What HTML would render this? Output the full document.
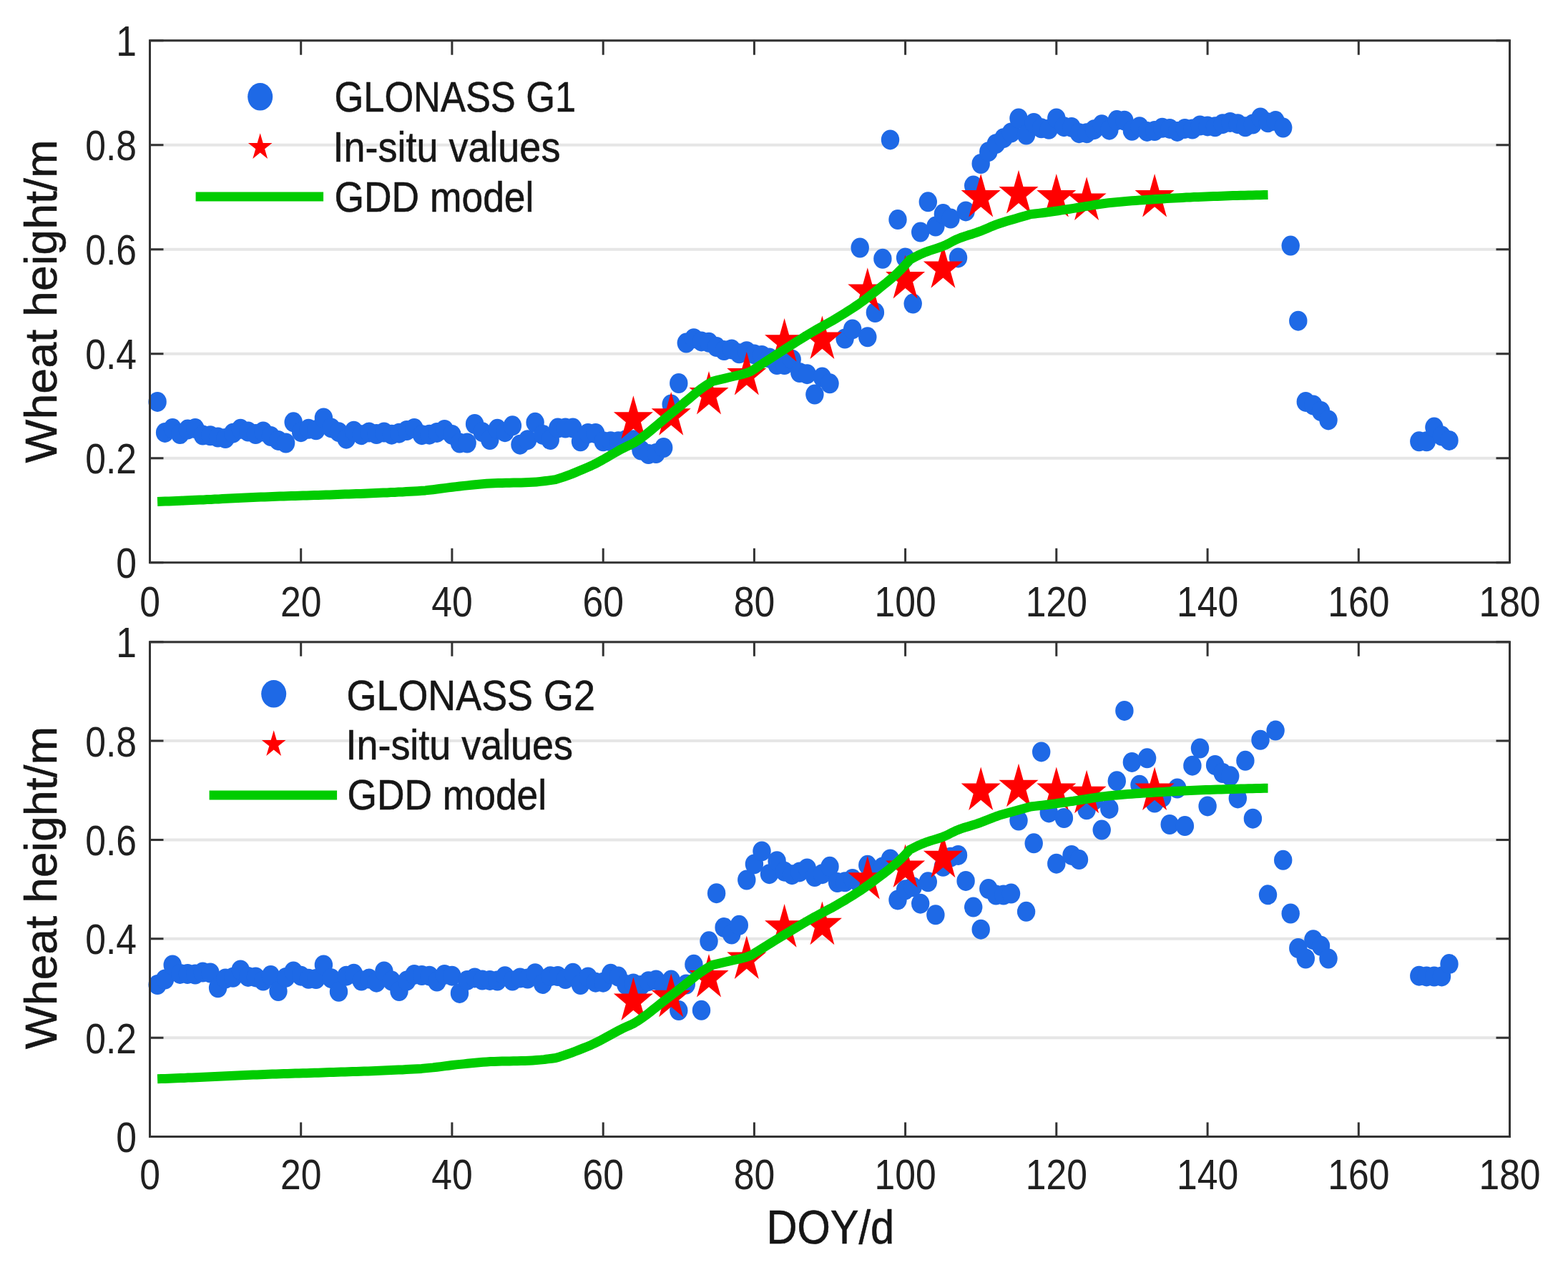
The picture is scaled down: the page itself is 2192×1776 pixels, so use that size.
<!DOCTYPE html><html><head><meta charset="utf-8"><title>Wheat height</title><style>html,body{margin:0;padding:0;background:#fff;}svg{display:block;}</style></head><body>
<svg width="2192" height="1776" viewBox="0 0 2192 1776">
<rect width="2192" height="1776" fill="#ffffff"/>
<style>text{fill:#161616;stroke:#161616;stroke-width:0.6px}text.t{fill:#202020;stroke:none}</style>
<g font-family="'Liberation Sans', Arial, Helvetica, sans-serif">
<line x1="209.5" x2="2110.5" y1="640.7" y2="640.7" stroke="#e6e6e6" stroke-width="4"/>
<line x1="209.5" x2="2110.5" y1="494.7" y2="494.7" stroke="#e6e6e6" stroke-width="4"/>
<line x1="209.5" x2="2110.5" y1="348.7" y2="348.7" stroke="#e6e6e6" stroke-width="4"/>
<line x1="209.5" x2="2110.5" y1="202.7" y2="202.7" stroke="#e6e6e6" stroke-width="4"/>
<line x1="209.5" x2="2110.5" y1="56.7" y2="56.7" stroke="#e6e6e6" stroke-width="4"/>
<g fill="#1e69e6"><ellipse cx="220.1" cy="561.9" rx="12.7" ry="14.0"/><ellipse cx="230.6" cy="604.9" rx="12.7" ry="14.0"/><ellipse cx="241.2" cy="599.1" rx="12.7" ry="14.0"/><ellipse cx="251.7" cy="607.1" rx="12.7" ry="14.0"/><ellipse cx="262.3" cy="600.6" rx="12.7" ry="14.0"/><ellipse cx="272.9" cy="599.1" rx="12.7" ry="14.0"/><ellipse cx="283.4" cy="608.6" rx="12.7" ry="14.0"/><ellipse cx="294.0" cy="609.3" rx="12.7" ry="14.0"/><ellipse cx="304.6" cy="611.5" rx="12.7" ry="14.0"/><ellipse cx="315.1" cy="613.0" rx="12.7" ry="14.0"/><ellipse cx="325.7" cy="605.7" rx="12.7" ry="14.0"/><ellipse cx="336.2" cy="599.8" rx="12.7" ry="14.0"/><ellipse cx="346.8" cy="603.5" rx="12.7" ry="14.0"/><ellipse cx="357.4" cy="607.1" rx="12.7" ry="14.0"/><ellipse cx="367.9" cy="603.5" rx="12.7" ry="14.0"/><ellipse cx="378.5" cy="610.0" rx="12.7" ry="14.0"/><ellipse cx="389.0" cy="615.9" rx="12.7" ry="14.0"/><ellipse cx="399.6" cy="619.5" rx="12.7" ry="14.0"/><ellipse cx="410.2" cy="590.3" rx="12.7" ry="14.0"/><ellipse cx="420.7" cy="604.2" rx="12.7" ry="14.0"/><ellipse cx="431.3" cy="599.8" rx="12.7" ry="14.0"/><ellipse cx="441.8" cy="601.3" rx="12.7" ry="14.0"/><ellipse cx="452.4" cy="584.5" rx="12.7" ry="14.0"/><ellipse cx="463.0" cy="598.4" rx="12.7" ry="14.0"/><ellipse cx="473.5" cy="604.2" rx="12.7" ry="14.0"/><ellipse cx="484.1" cy="613.7" rx="12.7" ry="14.0"/><ellipse cx="494.6" cy="602.7" rx="12.7" ry="14.0"/><ellipse cx="505.2" cy="608.2" rx="12.7" ry="14.0"/><ellipse cx="515.8" cy="604.5" rx="12.7" ry="14.0"/><ellipse cx="526.3" cy="607.1" rx="12.7" ry="14.0"/><ellipse cx="536.9" cy="604.5" rx="12.7" ry="14.0"/><ellipse cx="547.5" cy="607.7" rx="12.7" ry="14.0"/><ellipse cx="558.0" cy="605.7" rx="12.7" ry="14.0"/><ellipse cx="568.6" cy="602.0" rx="12.7" ry="14.0"/><ellipse cx="579.1" cy="599.1" rx="12.7" ry="14.0"/><ellipse cx="589.7" cy="608.2" rx="12.7" ry="14.0"/><ellipse cx="600.3" cy="607.7" rx="12.7" ry="14.0"/><ellipse cx="610.8" cy="604.9" rx="12.7" ry="14.0"/><ellipse cx="621.4" cy="600.9" rx="12.7" ry="14.0"/><ellipse cx="631.9" cy="607.9" rx="12.7" ry="14.0"/><ellipse cx="642.5" cy="619.5" rx="12.7" ry="14.0"/><ellipse cx="653.1" cy="619.5" rx="12.7" ry="14.0"/><ellipse cx="663.6" cy="593.0" rx="12.7" ry="14.0"/><ellipse cx="674.2" cy="604.2" rx="12.7" ry="14.0"/><ellipse cx="684.8" cy="615.0" rx="12.7" ry="14.0"/><ellipse cx="695.3" cy="599.8" rx="12.7" ry="14.0"/><ellipse cx="705.9" cy="604.2" rx="12.7" ry="14.0"/><ellipse cx="716.4" cy="595.3" rx="12.7" ry="14.0"/><ellipse cx="727.0" cy="621.7" rx="12.7" ry="14.0"/><ellipse cx="737.6" cy="615.2" rx="12.7" ry="14.0"/><ellipse cx="748.1" cy="590.8" rx="12.7" ry="14.0"/><ellipse cx="758.7" cy="607.9" rx="12.7" ry="14.0"/><ellipse cx="769.2" cy="615.0" rx="12.7" ry="14.0"/><ellipse cx="779.8" cy="598.6" rx="12.7" ry="14.0"/><ellipse cx="790.4" cy="598.6" rx="12.7" ry="14.0"/><ellipse cx="800.9" cy="598.6" rx="12.7" ry="14.0"/><ellipse cx="811.5" cy="617.3" rx="12.7" ry="14.0"/><ellipse cx="822.0" cy="606.0" rx="12.7" ry="14.0"/><ellipse cx="832.6" cy="606.0" rx="12.7" ry="14.0"/><ellipse cx="843.2" cy="617.3" rx="12.7" ry="14.0"/><ellipse cx="853.7" cy="617.3" rx="12.7" ry="14.0"/><ellipse cx="864.3" cy="617.3" rx="12.7" ry="14.0"/><ellipse cx="874.9" cy="615.2" rx="12.7" ry="14.0"/><ellipse cx="885.4" cy="615.2" rx="12.7" ry="14.0"/><ellipse cx="896.0" cy="629.5" rx="12.7" ry="14.0"/><ellipse cx="906.5" cy="635.1" rx="12.7" ry="14.0"/><ellipse cx="917.1" cy="634.1" rx="12.7" ry="14.0"/><ellipse cx="927.7" cy="626.1" rx="12.7" ry="14.0"/><ellipse cx="938.2" cy="565.5" rx="12.7" ry="14.0"/><ellipse cx="948.8" cy="536.0" rx="12.7" ry="14.0"/><ellipse cx="959.3" cy="479.6" rx="12.7" ry="14.0"/><ellipse cx="969.9" cy="473.2" rx="12.7" ry="14.0"/><ellipse cx="980.5" cy="477.4" rx="12.7" ry="14.0"/><ellipse cx="991.0" cy="478.8" rx="12.7" ry="14.0"/><ellipse cx="1001.6" cy="485.1" rx="12.7" ry="14.0"/><ellipse cx="1012.1" cy="490.1" rx="12.7" ry="14.0"/><ellipse cx="1022.7" cy="488.4" rx="12.7" ry="14.0"/><ellipse cx="1033.3" cy="494.3" rx="12.7" ry="14.0"/><ellipse cx="1043.8" cy="491.2" rx="12.7" ry="14.0"/><ellipse cx="1054.4" cy="495.4" rx="12.7" ry="14.0"/><ellipse cx="1065.0" cy="496.9" rx="12.7" ry="14.0"/><ellipse cx="1075.5" cy="500.5" rx="12.7" ry="14.0"/><ellipse cx="1086.1" cy="510.0" rx="12.7" ry="14.0"/><ellipse cx="1096.6" cy="510.0" rx="12.7" ry="14.0"/><ellipse cx="1107.2" cy="502.7" rx="12.7" ry="14.0"/><ellipse cx="1117.8" cy="521.0" rx="12.7" ry="14.0"/><ellipse cx="1128.3" cy="523.2" rx="12.7" ry="14.0"/><ellipse cx="1138.9" cy="551.6" rx="12.7" ry="14.0"/><ellipse cx="1149.4" cy="527.6" rx="12.7" ry="14.0"/><ellipse cx="1160.0" cy="536.3" rx="12.7" ry="14.0"/><ellipse cx="1181.1" cy="473.5" rx="12.7" ry="14.0"/><ellipse cx="1191.7" cy="460.4" rx="12.7" ry="14.0"/><ellipse cx="1202.2" cy="346.5" rx="12.7" ry="14.0"/><ellipse cx="1212.8" cy="471.3" rx="12.7" ry="14.0"/><ellipse cx="1223.4" cy="437.0" rx="12.7" ry="14.0"/><ellipse cx="1233.9" cy="361.8" rx="12.7" ry="14.0"/><ellipse cx="1244.5" cy="195.4" rx="12.7" ry="14.0"/><ellipse cx="1255.0" cy="307.1" rx="12.7" ry="14.0"/><ellipse cx="1265.6" cy="360.4" rx="12.7" ry="14.0"/><ellipse cx="1276.2" cy="424.6" rx="12.7" ry="14.0"/><ellipse cx="1286.7" cy="324.6" rx="12.7" ry="14.0"/><ellipse cx="1297.3" cy="282.3" rx="12.7" ry="14.0"/><ellipse cx="1307.9" cy="316.6" rx="12.7" ry="14.0"/><ellipse cx="1318.4" cy="299.1" rx="12.7" ry="14.0"/><ellipse cx="1329.0" cy="305.6" rx="12.7" ry="14.0"/><ellipse cx="1339.5" cy="360.4" rx="12.7" ry="14.0"/><ellipse cx="1350.1" cy="295.4" rx="12.7" ry="14.0"/><ellipse cx="1360.7" cy="259.6" rx="12.7" ry="14.0"/><ellipse cx="1371.2" cy="229.0" rx="12.7" ry="14.0"/><ellipse cx="1381.8" cy="212.2" rx="12.7" ry="14.0"/><ellipse cx="1392.3" cy="201.2" rx="12.7" ry="14.0"/><ellipse cx="1402.9" cy="193.2" rx="12.7" ry="14.0"/><ellipse cx="1413.5" cy="185.5" rx="12.7" ry="14.0"/><ellipse cx="1424.0" cy="165.5" rx="12.7" ry="14.0"/><ellipse cx="1434.6" cy="188.5" rx="12.7" ry="14.0"/><ellipse cx="1445.2" cy="172.0" rx="12.7" ry="14.0"/><ellipse cx="1455.7" cy="179.3" rx="12.7" ry="14.0"/><ellipse cx="1466.3" cy="180.8" rx="12.7" ry="14.0"/><ellipse cx="1476.8" cy="165.5" rx="12.7" ry="14.0"/><ellipse cx="1487.4" cy="177.2" rx="12.7" ry="14.0"/><ellipse cx="1498.0" cy="177.9" rx="12.7" ry="14.0"/><ellipse cx="1508.5" cy="186.2" rx="12.7" ry="14.0"/><ellipse cx="1519.1" cy="186.2" rx="12.7" ry="14.0"/><ellipse cx="1529.6" cy="181.2" rx="12.7" ry="14.0"/><ellipse cx="1540.2" cy="174.3" rx="12.7" ry="14.0"/><ellipse cx="1550.8" cy="181.7" rx="12.7" ry="14.0"/><ellipse cx="1561.3" cy="168.1" rx="12.7" ry="14.0"/><ellipse cx="1571.9" cy="168.7" rx="12.7" ry="14.0"/><ellipse cx="1582.4" cy="182.8" rx="12.7" ry="14.0"/><ellipse cx="1593.0" cy="177.2" rx="12.7" ry="14.0"/><ellipse cx="1603.6" cy="183.9" rx="12.7" ry="14.0"/><ellipse cx="1614.1" cy="183.0" rx="12.7" ry="14.0"/><ellipse cx="1624.7" cy="178.8" rx="12.7" ry="14.0"/><ellipse cx="1635.2" cy="179.9" rx="12.7" ry="14.0"/><ellipse cx="1645.8" cy="183.9" rx="12.7" ry="14.0"/><ellipse cx="1656.4" cy="179.9" rx="12.7" ry="14.0"/><ellipse cx="1666.9" cy="180.6" rx="12.7" ry="14.0"/><ellipse cx="1677.5" cy="175.5" rx="12.7" ry="14.0"/><ellipse cx="1688.1" cy="176.4" rx="12.7" ry="14.0"/><ellipse cx="1698.6" cy="177.3" rx="12.7" ry="14.0"/><ellipse cx="1709.2" cy="173.2" rx="12.7" ry="14.0"/><ellipse cx="1719.7" cy="170.9" rx="12.7" ry="14.0"/><ellipse cx="1730.3" cy="173.2" rx="12.7" ry="14.0"/><ellipse cx="1740.9" cy="177.3" rx="12.7" ry="14.0"/><ellipse cx="1751.4" cy="173.5" rx="12.7" ry="14.0"/><ellipse cx="1762.0" cy="164.4" rx="12.7" ry="14.0"/><ellipse cx="1772.5" cy="171.3" rx="12.7" ry="14.0"/><ellipse cx="1783.1" cy="169.1" rx="12.7" ry="14.0"/><ellipse cx="1793.7" cy="178.6" rx="12.7" ry="14.0"/><ellipse cx="1804.2" cy="343.6" rx="12.7" ry="14.0"/><ellipse cx="1814.8" cy="448.7" rx="12.7" ry="14.0"/><ellipse cx="1825.3" cy="561.9" rx="12.7" ry="14.0"/><ellipse cx="1835.9" cy="566.5" rx="12.7" ry="14.0"/><ellipse cx="1846.5" cy="575.0" rx="12.7" ry="14.0"/><ellipse cx="1857.0" cy="587.4" rx="12.7" ry="14.0"/><ellipse cx="1983.8" cy="617.3" rx="12.7" ry="14.0"/><ellipse cx="1994.3" cy="617.3" rx="12.7" ry="14.0"/><ellipse cx="2004.9" cy="597.6" rx="12.7" ry="14.0"/><ellipse cx="2015.5" cy="609.6" rx="12.7" ry="14.0"/><ellipse cx="2026.0" cy="615.9" rx="12.7" ry="14.0"/></g>
<path fill="#ff0000" d="M885.4,553.2L891.9,576.3L912.9,576.3L895.9,590.6L902.4,613.8L885.4,599.5L868.4,613.8L874.9,590.6L857.9,576.3L878.9,576.3ZM938.2,548.1L944.7,571.2L965.7,571.2L948.7,585.5L955.2,608.7L938.2,594.4L921.2,608.7L927.7,585.5L910.7,571.2L931.7,571.2ZM991.0,518.9L997.5,542.0L1018.5,542.0L1001.5,556.3L1008.0,579.5L991.0,565.2L974.0,579.5L980.5,556.3L963.5,542.0L984.5,542.0ZM1043.8,491.9L1050.3,515.0L1071.3,515.0L1054.3,529.3L1060.8,552.5L1043.8,538.2L1026.8,552.5L1033.3,529.3L1016.3,515.0L1037.3,515.0ZM1096.6,445.1L1103.1,468.3L1124.1,468.3L1107.1,482.6L1113.6,505.7L1096.6,491.4L1079.6,505.7L1086.1,482.6L1069.1,468.3L1090.1,468.3ZM1149.4,441.5L1155.9,464.6L1176.9,464.6L1159.9,478.9L1166.4,502.1L1149.4,487.8L1132.5,502.1L1138.9,478.9L1122.0,464.6L1142.9,464.6ZM1212.8,374.3L1219.3,397.5L1240.3,397.5L1223.3,411.8L1229.8,434.9L1212.8,420.6L1195.8,434.9L1202.3,411.8L1185.3,397.5L1206.3,397.5ZM1265.6,356.8L1272.1,380.0L1293.1,380.0L1276.1,394.3L1282.6,417.4L1265.6,403.1L1248.6,417.4L1255.1,394.3L1238.1,380.0L1259.1,380.0ZM1318.4,342.2L1324.9,365.4L1345.9,365.4L1328.9,379.7L1335.4,402.8L1318.4,388.5L1301.4,402.8L1307.9,379.7L1290.9,365.4L1311.9,365.4ZM1371.2,242.9L1377.7,266.1L1398.7,266.1L1381.7,280.4L1388.2,303.5L1371.2,289.2L1354.2,303.5L1360.7,280.4L1343.7,266.1L1364.7,266.1ZM1424.0,237.8L1430.5,261.0L1451.5,261.0L1434.5,275.3L1441.0,298.4L1424.0,284.1L1407.0,298.4L1413.5,275.3L1396.5,261.0L1417.5,261.0ZM1476.8,242.9L1483.3,266.1L1504.3,266.1L1487.3,280.4L1493.8,303.5L1476.8,289.2L1459.8,303.5L1466.3,280.4L1449.3,266.1L1470.3,266.1ZM1519.1,247.3L1525.6,270.5L1546.6,270.5L1529.6,284.8L1536.1,307.9L1519.1,293.6L1502.1,307.9L1508.6,284.8L1491.6,270.5L1512.6,270.5ZM1614.1,242.9L1620.6,266.1L1641.6,266.1L1624.6,280.4L1631.1,303.5L1614.1,289.2L1597.1,303.5L1603.6,280.4L1586.6,266.1L1607.6,266.1Z"/>
<polyline fill="none" stroke="#00cc00" stroke-width="13.0" stroke-linejoin="round" points="220.1,701.5 225.4,701.3 230.8,701.1 236.1,700.9 241.5,700.7 246.8,700.5 252.2,700.2 257.5,700.0 262.9,699.8 268.2,699.6 273.6,699.3 278.9,699.1 284.3,698.9 289.6,698.6 295.0,698.4 300.3,698.1 305.7,697.9 311.0,697.6 316.4,697.3 321.7,697.1 327.1,696.8 332.4,696.5 337.8,696.3 343.1,696.0 348.5,695.8 353.9,695.5 359.2,695.3 364.6,695.1 369.9,694.9 375.3,694.7 380.6,694.5 386.0,694.3 391.3,694.1 396.7,693.9 402.0,693.8 407.4,693.6 412.7,693.4 418.1,693.3 423.4,693.1 428.8,692.9 434.1,692.8 439.5,692.6 444.8,692.4 450.2,692.2 455.5,692.1 460.9,691.9 466.2,691.7 471.6,691.5 476.9,691.3 482.3,691.1 487.6,691.0 493.0,690.8 498.3,690.6 503.7,690.4 509.0,690.2 514.4,690.0 519.8,689.8 525.1,689.6 530.5,689.3 535.8,689.1 541.2,688.9 546.5,688.6 551.9,688.4 557.2,688.1 562.6,687.9 567.9,687.6 573.3,687.3 578.6,687.0 584.0,686.7 589.3,686.3 594.7,685.9 600.0,685.3 605.4,684.7 610.7,684.0 616.1,683.3 621.4,682.6 626.8,681.9 632.1,681.2 637.5,680.6 642.8,680.0 648.2,679.4 653.5,678.9 658.9,678.3 664.2,677.7 669.6,677.2 675.0,676.7 680.3,676.3 685.7,676.0 691.0,675.7 696.4,675.6 701.7,675.4 707.1,675.3 712.4,675.2 717.8,675.1 723.1,675.0 728.5,674.9 733.8,674.8 739.2,674.6 744.5,674.3 749.9,673.9 755.2,673.4 760.6,672.8 765.9,672.1 771.3,671.4 776.6,670.6 782.1,668.9 787.6,667.1 793.1,665.1 798.6,663.1 804.1,660.9 809.6,658.6 815.1,656.3 820.6,653.9 826.1,651.5 831.5,648.9 837.0,646.0 842.5,643.0 848.0,639.8 853.5,636.7 859.0,633.5 864.5,630.3 870.0,627.3 875.5,624.6 881.0,622.0 886.5,619.2 892.0,615.7 897.5,611.7 902.9,607.6 908.4,603.2 913.9,598.6 919.4,593.9 924.9,589.3 930.4,584.7 935.9,580.2 941.4,575.7 946.9,571.2 952.4,566.7 957.9,562.1 963.4,557.5 968.8,552.8 974.3,548.2 979.8,543.9 985.3,540.0 990.8,536.5 996.3,533.2 1001.7,531.9 1007.1,530.7 1012.5,529.4 1017.9,528.0 1023.3,526.7 1028.7,525.5 1034.1,524.3 1039.5,522.9 1044.9,521.2 1050.4,518.9 1055.8,515.3 1061.2,511.6 1066.6,508.1 1072.0,504.6 1077.4,501.1 1082.8,497.6 1088.2,494.1 1093.6,490.6 1099.0,487.1 1104.4,483.7 1109.8,480.2 1115.2,476.8 1120.6,473.4 1126.0,470.1 1131.4,466.8 1136.8,463.6 1142.2,460.5 1147.6,457.4 1153.0,454.4 1158.4,451.4 1163.9,448.3 1169.3,445.1 1174.7,441.8 1180.1,438.5 1185.5,435.1 1190.9,431.6 1196.3,428.0 1201.7,424.3 1207.1,420.4 1212.5,416.4 1217.9,412.2 1223.3,408.0 1228.7,403.7 1234.1,399.3 1239.5,395.0 1244.9,390.5 1250.3,385.8 1255.7,380.7 1261.1,375.3 1266.5,369.4 1271.9,363.3 1277.4,360.3 1282.8,357.5 1288.3,354.9 1293.8,352.6 1299.2,350.6 1304.7,348.9 1310.1,347.1 1315.6,345.3 1321.0,343.1 1326.5,340.4 1331.9,337.4 1337.4,334.7 1342.8,332.5 1348.3,330.6 1353.7,328.8 1359.2,327.2 1364.6,325.4 1370.1,323.4 1375.5,321.2 1381.0,318.9 1386.4,316.6 1391.9,314.4 1397.3,312.5 1402.8,310.7 1408.2,309.0 1413.7,307.4 1419.1,305.9 1424.6,304.3 1430.0,302.7 1435.5,301.2 1440.9,299.6 1446.4,299.0 1451.8,298.4 1457.2,297.7 1462.7,297.0 1468.1,296.2 1473.5,295.5 1479.0,294.7 1484.4,293.9 1489.9,293.0 1495.3,292.2 1500.7,291.4 1506.2,290.5 1511.6,289.6 1517.0,288.7 1522.5,287.8 1527.9,286.9 1533.3,286.0 1538.8,285.2 1544.2,284.5 1549.7,283.8 1555.1,283.2 1560.5,282.7 1566.0,282.2 1571.4,281.7 1576.8,281.3 1582.3,280.8 1587.7,280.4 1593.1,280.0 1598.6,279.7 1604.0,279.3 1609.5,278.9 1614.9,278.6 1620.3,278.3 1625.8,277.9 1631.2,277.6 1636.6,277.3 1642.1,277.0 1647.5,276.7 1652.9,276.4 1658.4,276.1 1663.8,275.9 1669.3,275.6 1674.7,275.4 1680.1,275.2 1685.6,275.0 1691.0,274.8 1696.4,274.6 1701.9,274.4 1707.3,274.2 1712.7,274.0 1718.2,273.8 1723.6,273.6 1729.1,273.5 1734.5,273.3 1739.9,273.2 1745.4,273.0 1750.8,272.9 1756.2,272.8 1761.7,272.7 1767.1,272.6 1772.5,272.5"/>
<rect x="209.5" y="56.7" width="1901.0" height="730.0" fill="none" stroke="#333333" stroke-width="3"/>
<path fill="none" stroke="#333333" stroke-width="3" d="M209.5,786.7V766.7M209.5,56.7V76.7M420.7,786.7V766.7M420.7,56.7V76.7M631.9,786.7V766.7M631.9,56.7V76.7M843.2,786.7V766.7M843.2,56.7V76.7M1054.4,786.7V766.7M1054.4,56.7V76.7M1265.6,786.7V766.7M1265.6,56.7V76.7M1476.8,786.7V766.7M1476.8,56.7V76.7M1688.1,786.7V766.7M1688.1,56.7V76.7M1899.3,786.7V766.7M1899.3,56.7V76.7M2110.5,786.7V766.7M2110.5,56.7V76.7M209.5,786.7H228.5M2110.5,786.7H2091.5M209.5,640.7H228.5M2110.5,640.7H2091.5M209.5,494.7H228.5M2110.5,494.7H2091.5M209.5,348.7H228.5M2110.5,348.7H2091.5M209.5,202.7H228.5M2110.5,202.7H2091.5M209.5,56.7H228.5M2110.5,56.7H2091.5"/>
<text class="t" transform="translate(209.50,861.70) scale(0.8615,1)" text-anchor="middle" font-size="60.0">0</text>
<text class="t" transform="translate(420.72,861.70) scale(0.8615,1)" text-anchor="middle" font-size="60.0">20</text>
<text class="t" transform="translate(631.94,861.70) scale(0.8615,1)" text-anchor="middle" font-size="60.0">40</text>
<text class="t" transform="translate(843.17,861.70) scale(0.8615,1)" text-anchor="middle" font-size="60.0">60</text>
<text class="t" transform="translate(1054.39,861.70) scale(0.8615,1)" text-anchor="middle" font-size="60.0">80</text>
<text class="t" transform="translate(1265.61,861.70) scale(0.8615,1)" text-anchor="middle" font-size="60.0">100</text>
<text class="t" transform="translate(1476.83,861.70) scale(0.8615,1)" text-anchor="middle" font-size="60.0">120</text>
<text class="t" transform="translate(1688.06,861.70) scale(0.8615,1)" text-anchor="middle" font-size="60.0">140</text>
<text class="t" transform="translate(1899.28,861.70) scale(0.8615,1)" text-anchor="middle" font-size="60.0">160</text>
<text class="t" transform="translate(2110.50,861.70) scale(0.8615,1)" text-anchor="middle" font-size="60.0">180</text>
<text class="t" transform="translate(191.00,808.20) scale(0.8615,1)" text-anchor="end" font-size="60.0">0</text>
<text class="t" transform="translate(191.00,662.20) scale(0.8615,1)" text-anchor="end" font-size="60.0">0.2</text>
<text class="t" transform="translate(191.00,516.20) scale(0.8615,1)" text-anchor="end" font-size="60.0">0.4</text>
<text class="t" transform="translate(191.00,370.20) scale(0.8615,1)" text-anchor="end" font-size="60.0">0.6</text>
<text class="t" transform="translate(191.00,224.20) scale(0.8615,1)" text-anchor="end" font-size="60.0">0.8</text>
<text class="t" transform="translate(191.00,78.20) scale(0.8615,1)" text-anchor="end" font-size="60.0">1</text>
<ellipse cx="363.7" cy="135.3" rx="17.5" ry="19.3" fill="#1e69e6"/>
<path fill="#ff0000" d="M363.7,186.3L367.7,199.9L380.5,199.9L370.1,208.3L374.1,221.9L363.7,213.5L353.3,221.9L357.3,208.3L346.9,199.9L359.7,199.9Z"/>
<line x1="273.6" x2="452.1" y1="275.1" y2="275.1" stroke="#00cc00" stroke-width="13.0"/>
<line x1="209.5" x2="2110.5" y1="1451.2" y2="1451.2" stroke="#e6e6e6" stroke-width="4"/>
<line x1="209.5" x2="2110.5" y1="1312.8" y2="1312.8" stroke="#e6e6e6" stroke-width="4"/>
<line x1="209.5" x2="2110.5" y1="1174.5" y2="1174.5" stroke="#e6e6e6" stroke-width="4"/>
<line x1="209.5" x2="2110.5" y1="1036.1" y2="1036.1" stroke="#e6e6e6" stroke-width="4"/>
<line x1="209.5" x2="2110.5" y1="897.8" y2="897.8" stroke="#e6e6e6" stroke-width="4"/>
<g fill="#1e69e6"><ellipse cx="220.1" cy="1377.1" rx="12.7" ry="14.0"/><ellipse cx="230.6" cy="1369.5" rx="12.7" ry="14.0"/><ellipse cx="241.2" cy="1349.5" rx="12.7" ry="14.0"/><ellipse cx="251.7" cy="1361.9" rx="12.7" ry="14.0"/><ellipse cx="262.3" cy="1361.9" rx="12.7" ry="14.0"/><ellipse cx="272.9" cy="1362.6" rx="12.7" ry="14.0"/><ellipse cx="283.4" cy="1359.6" rx="12.7" ry="14.0"/><ellipse cx="294.0" cy="1360.5" rx="12.7" ry="14.0"/><ellipse cx="304.6" cy="1381.3" rx="12.7" ry="14.0"/><ellipse cx="315.1" cy="1368.5" rx="12.7" ry="14.0"/><ellipse cx="325.7" cy="1366.8" rx="12.7" ry="14.0"/><ellipse cx="336.2" cy="1356.4" rx="12.7" ry="14.0"/><ellipse cx="346.8" cy="1365.9" rx="12.7" ry="14.0"/><ellipse cx="357.4" cy="1366.4" rx="12.7" ry="14.0"/><ellipse cx="367.9" cy="1371.5" rx="12.7" ry="14.0"/><ellipse cx="378.5" cy="1364.1" rx="12.7" ry="14.0"/><ellipse cx="389.0" cy="1386.1" rx="12.7" ry="14.0"/><ellipse cx="399.6" cy="1366.9" rx="12.7" ry="14.0"/><ellipse cx="410.2" cy="1358.5" rx="12.7" ry="14.0"/><ellipse cx="420.7" cy="1364.7" rx="12.7" ry="14.0"/><ellipse cx="431.3" cy="1368.8" rx="12.7" ry="14.0"/><ellipse cx="441.8" cy="1369.1" rx="12.7" ry="14.0"/><ellipse cx="452.4" cy="1349.5" rx="12.7" ry="14.0"/><ellipse cx="463.0" cy="1368.2" rx="12.7" ry="14.0"/><ellipse cx="473.5" cy="1386.8" rx="12.7" ry="14.0"/><ellipse cx="484.1" cy="1364.7" rx="12.7" ry="14.0"/><ellipse cx="494.6" cy="1361.8" rx="12.7" ry="14.0"/><ellipse cx="505.2" cy="1371.6" rx="12.7" ry="14.0"/><ellipse cx="515.8" cy="1368.5" rx="12.7" ry="14.0"/><ellipse cx="526.3" cy="1373.7" rx="12.7" ry="14.0"/><ellipse cx="536.9" cy="1358.5" rx="12.7" ry="14.0"/><ellipse cx="547.5" cy="1371.6" rx="12.7" ry="14.0"/><ellipse cx="558.0" cy="1386.1" rx="12.7" ry="14.0"/><ellipse cx="568.6" cy="1371.6" rx="12.7" ry="14.0"/><ellipse cx="579.1" cy="1362.9" rx="12.7" ry="14.0"/><ellipse cx="589.7" cy="1364.0" rx="12.7" ry="14.0"/><ellipse cx="600.3" cy="1364.7" rx="12.7" ry="14.0"/><ellipse cx="610.8" cy="1372.6" rx="12.7" ry="14.0"/><ellipse cx="621.4" cy="1362.9" rx="12.7" ry="14.0"/><ellipse cx="631.9" cy="1364.7" rx="12.7" ry="14.0"/><ellipse cx="642.5" cy="1388.9" rx="12.7" ry="14.0"/><ellipse cx="653.1" cy="1370.9" rx="12.7" ry="14.0"/><ellipse cx="663.6" cy="1367.4" rx="12.7" ry="14.0"/><ellipse cx="674.2" cy="1370.6" rx="12.7" ry="14.0"/><ellipse cx="684.8" cy="1370.9" rx="12.7" ry="14.0"/><ellipse cx="695.3" cy="1371.5" rx="12.7" ry="14.0"/><ellipse cx="705.9" cy="1365.2" rx="12.7" ry="14.0"/><ellipse cx="716.4" cy="1371.5" rx="12.7" ry="14.0"/><ellipse cx="727.0" cy="1367.5" rx="12.7" ry="14.0"/><ellipse cx="737.6" cy="1368.5" rx="12.7" ry="14.0"/><ellipse cx="748.1" cy="1361.2" rx="12.7" ry="14.0"/><ellipse cx="758.7" cy="1375.9" rx="12.7" ry="14.0"/><ellipse cx="769.2" cy="1365.2" rx="12.7" ry="14.0"/><ellipse cx="779.8" cy="1365.0" rx="12.7" ry="14.0"/><ellipse cx="790.4" cy="1369.1" rx="12.7" ry="14.0"/><ellipse cx="800.9" cy="1360.7" rx="12.7" ry="14.0"/><ellipse cx="811.5" cy="1377.0" rx="12.7" ry="14.0"/><ellipse cx="822.0" cy="1366.4" rx="12.7" ry="14.0"/><ellipse cx="832.6" cy="1373.7" rx="12.7" ry="14.0"/><ellipse cx="843.2" cy="1373.7" rx="12.7" ry="14.0"/><ellipse cx="853.7" cy="1361.8" rx="12.7" ry="14.0"/><ellipse cx="864.3" cy="1365.6" rx="12.7" ry="14.0"/><ellipse cx="874.9" cy="1377.1" rx="12.7" ry="14.0"/><ellipse cx="885.4" cy="1375.6" rx="12.7" ry="14.0"/><ellipse cx="896.0" cy="1378.1" rx="12.7" ry="14.0"/><ellipse cx="906.5" cy="1372.2" rx="12.7" ry="14.0"/><ellipse cx="917.1" cy="1370.6" rx="12.7" ry="14.0"/><ellipse cx="927.7" cy="1378.5" rx="12.7" ry="14.0"/><ellipse cx="938.2" cy="1370.6" rx="12.7" ry="14.0"/><ellipse cx="948.8" cy="1413.1" rx="12.7" ry="14.0"/><ellipse cx="959.3" cy="1376.5" rx="12.7" ry="14.0"/><ellipse cx="969.9" cy="1348.8" rx="12.7" ry="14.0"/><ellipse cx="980.5" cy="1412.8" rx="12.7" ry="14.0"/><ellipse cx="991.0" cy="1316.3" rx="12.7" ry="14.0"/><ellipse cx="1001.6" cy="1249.2" rx="12.7" ry="14.0"/><ellipse cx="1012.1" cy="1296.9" rx="12.7" ry="14.0"/><ellipse cx="1022.7" cy="1306.6" rx="12.7" ry="14.0"/><ellipse cx="1033.3" cy="1293.8" rx="12.7" ry="14.0"/><ellipse cx="1043.8" cy="1230.5" rx="12.7" ry="14.0"/><ellipse cx="1054.4" cy="1208.4" rx="12.7" ry="14.0"/><ellipse cx="1065.0" cy="1190.4" rx="12.7" ry="14.0"/><ellipse cx="1075.5" cy="1222.2" rx="12.7" ry="14.0"/><ellipse cx="1086.1" cy="1204.2" rx="12.7" ry="14.0"/><ellipse cx="1096.6" cy="1218.7" rx="12.7" ry="14.0"/><ellipse cx="1107.2" cy="1223.2" rx="12.7" ry="14.0"/><ellipse cx="1117.8" cy="1219.4" rx="12.7" ry="14.0"/><ellipse cx="1128.3" cy="1214.4" rx="12.7" ry="14.0"/><ellipse cx="1138.9" cy="1226.0" rx="12.7" ry="14.0"/><ellipse cx="1149.4" cy="1222.2" rx="12.7" ry="14.0"/><ellipse cx="1160.0" cy="1211.8" rx="12.7" ry="14.0"/><ellipse cx="1170.6" cy="1234.0" rx="12.7" ry="14.0"/><ellipse cx="1181.1" cy="1233.3" rx="12.7" ry="14.0"/><ellipse cx="1191.7" cy="1229.1" rx="12.7" ry="14.0"/><ellipse cx="1202.2" cy="1236.7" rx="12.7" ry="14.0"/><ellipse cx="1212.8" cy="1209.8" rx="12.7" ry="14.0"/><ellipse cx="1223.4" cy="1217.7" rx="12.7" ry="14.0"/><ellipse cx="1233.9" cy="1212.5" rx="12.7" ry="14.0"/><ellipse cx="1244.5" cy="1201.5" rx="12.7" ry="14.0"/><ellipse cx="1255.0" cy="1258.5" rx="12.7" ry="14.0"/><ellipse cx="1265.6" cy="1244.3" rx="12.7" ry="14.0"/><ellipse cx="1276.2" cy="1240.2" rx="12.7" ry="14.0"/><ellipse cx="1286.7" cy="1263.7" rx="12.7" ry="14.0"/><ellipse cx="1297.3" cy="1233.3" rx="12.7" ry="14.0"/><ellipse cx="1307.9" cy="1279.3" rx="12.7" ry="14.0"/><ellipse cx="1318.4" cy="1211.8" rx="12.7" ry="14.0"/><ellipse cx="1329.0" cy="1198.7" rx="12.7" ry="14.0"/><ellipse cx="1339.5" cy="1195.9" rx="12.7" ry="14.0"/><ellipse cx="1350.1" cy="1231.9" rx="12.7" ry="14.0"/><ellipse cx="1360.7" cy="1268.6" rx="12.7" ry="14.0"/><ellipse cx="1371.2" cy="1299.7" rx="12.7" ry="14.0"/><ellipse cx="1381.8" cy="1243.0" rx="12.7" ry="14.0"/><ellipse cx="1392.3" cy="1251.5" rx="12.7" ry="14.0"/><ellipse cx="1402.9" cy="1251.5" rx="12.7" ry="14.0"/><ellipse cx="1413.5" cy="1249.6" rx="12.7" ry="14.0"/><ellipse cx="1424.0" cy="1147.5" rx="12.7" ry="14.0"/><ellipse cx="1434.6" cy="1274.8" rx="12.7" ry="14.0"/><ellipse cx="1445.2" cy="1179.3" rx="12.7" ry="14.0"/><ellipse cx="1455.7" cy="1051.4" rx="12.7" ry="14.0"/><ellipse cx="1466.3" cy="1136.4" rx="12.7" ry="14.0"/><ellipse cx="1476.8" cy="1207.7" rx="12.7" ry="14.0"/><ellipse cx="1487.4" cy="1144.0" rx="12.7" ry="14.0"/><ellipse cx="1498.0" cy="1195.9" rx="12.7" ry="14.0"/><ellipse cx="1508.5" cy="1202.1" rx="12.7" ry="14.0"/><ellipse cx="1519.1" cy="1132.3" rx="12.7" ry="14.0"/><ellipse cx="1529.6" cy="1119.1" rx="12.7" ry="14.0"/><ellipse cx="1540.2" cy="1160.6" rx="12.7" ry="14.0"/><ellipse cx="1550.8" cy="1130.9" rx="12.7" ry="14.0"/><ellipse cx="1561.3" cy="1092.2" rx="12.7" ry="14.0"/><ellipse cx="1571.9" cy="993.9" rx="12.7" ry="14.0"/><ellipse cx="1582.4" cy="1065.9" rx="12.7" ry="14.0"/><ellipse cx="1593.0" cy="1097.7" rx="12.7" ry="14.0"/><ellipse cx="1603.6" cy="1060.3" rx="12.7" ry="14.0"/><ellipse cx="1614.1" cy="1122.6" rx="12.7" ry="14.0"/><ellipse cx="1624.7" cy="1115.0" rx="12.7" ry="14.0"/><ellipse cx="1635.2" cy="1153.0" rx="12.7" ry="14.0"/><ellipse cx="1645.8" cy="1102.5" rx="12.7" ry="14.0"/><ellipse cx="1656.4" cy="1155.1" rx="12.7" ry="14.0"/><ellipse cx="1666.9" cy="1070.7" rx="12.7" ry="14.0"/><ellipse cx="1677.5" cy="1046.5" rx="12.7" ry="14.0"/><ellipse cx="1688.1" cy="1127.4" rx="12.7" ry="14.0"/><ellipse cx="1698.6" cy="1070.0" rx="12.7" ry="14.0"/><ellipse cx="1709.2" cy="1081.1" rx="12.7" ry="14.0"/><ellipse cx="1719.7" cy="1085.3" rx="12.7" ry="14.0"/><ellipse cx="1730.3" cy="1116.4" rx="12.7" ry="14.0"/><ellipse cx="1740.9" cy="1063.8" rx="12.7" ry="14.0"/><ellipse cx="1751.4" cy="1144.7" rx="12.7" ry="14.0"/><ellipse cx="1762.0" cy="1034.8" rx="12.7" ry="14.0"/><ellipse cx="1772.5" cy="1251.3" rx="12.7" ry="14.0"/><ellipse cx="1783.1" cy="1021.6" rx="12.7" ry="14.0"/><ellipse cx="1793.7" cy="1202.8" rx="12.7" ry="14.0"/><ellipse cx="1804.2" cy="1277.5" rx="12.7" ry="14.0"/><ellipse cx="1814.8" cy="1326.0" rx="12.7" ry="14.0"/><ellipse cx="1825.3" cy="1340.5" rx="12.7" ry="14.0"/><ellipse cx="1835.9" cy="1314.2" rx="12.7" ry="14.0"/><ellipse cx="1846.5" cy="1322.8" rx="12.7" ry="14.0"/><ellipse cx="1857.0" cy="1340.5" rx="12.7" ry="14.0"/><ellipse cx="1983.8" cy="1364.7" rx="12.7" ry="14.0"/><ellipse cx="1994.3" cy="1365.4" rx="12.7" ry="14.0"/><ellipse cx="2004.9" cy="1365.6" rx="12.7" ry="14.0"/><ellipse cx="2015.5" cy="1365.4" rx="12.7" ry="14.0"/><ellipse cx="2026.0" cy="1348.1" rx="12.7" ry="14.0"/></g>
<path fill="#ff0000" d="M885.4,1366.5L891.9,1389.6L912.9,1389.6L895.9,1403.9L902.4,1427.1L885.4,1412.8L868.4,1427.1L874.9,1403.9L857.9,1389.6L878.9,1389.6ZM938.2,1361.6L944.7,1384.8L965.7,1384.8L948.7,1399.1L955.2,1422.2L938.2,1407.9L921.2,1422.2L927.7,1399.1L910.7,1384.8L931.7,1384.8ZM991.0,1334.0L997.5,1357.1L1018.5,1357.1L1001.5,1371.4L1008.0,1394.6L991.0,1380.3L974.0,1394.6L980.5,1371.4L963.5,1357.1L984.5,1357.1ZM1043.8,1308.4L1050.3,1331.5L1071.3,1331.5L1054.3,1345.8L1060.8,1369.0L1043.8,1354.7L1026.8,1369.0L1033.3,1345.8L1016.3,1331.5L1037.3,1331.5ZM1096.6,1264.1L1103.1,1287.2L1124.1,1287.3L1107.1,1301.6L1113.6,1324.7L1096.6,1310.4L1079.6,1324.7L1086.1,1301.6L1069.1,1287.3L1090.1,1287.2ZM1149.4,1260.6L1155.9,1283.8L1176.9,1283.8L1159.9,1298.1L1166.4,1321.2L1149.4,1306.9L1132.5,1321.2L1138.9,1298.1L1122.0,1283.8L1142.9,1283.8ZM1212.8,1197.0L1219.3,1220.2L1240.3,1220.2L1223.3,1234.5L1229.8,1257.6L1212.8,1243.3L1195.8,1257.6L1202.3,1234.5L1185.3,1220.2L1206.3,1220.2ZM1265.6,1180.4L1272.1,1203.6L1293.1,1203.6L1276.1,1217.9L1282.6,1241.0L1265.6,1226.7L1248.6,1241.0L1255.1,1217.9L1238.1,1203.6L1259.1,1203.6ZM1318.4,1166.6L1324.9,1189.7L1345.9,1189.7L1328.9,1204.0L1335.4,1227.2L1318.4,1212.9L1301.4,1227.2L1307.9,1204.0L1290.9,1189.7L1311.9,1189.7ZM1371.2,1072.5L1377.7,1095.6L1398.7,1095.6L1381.7,1110.0L1388.2,1133.1L1371.2,1118.8L1354.2,1133.1L1360.7,1110.0L1343.7,1095.6L1364.7,1095.6ZM1424.0,1067.7L1430.5,1090.8L1451.5,1090.8L1434.5,1105.1L1441.0,1128.3L1424.0,1114.0L1407.0,1128.3L1413.5,1105.1L1396.5,1090.8L1417.5,1090.8ZM1476.8,1072.5L1483.3,1095.6L1504.3,1095.6L1487.3,1110.0L1493.8,1133.1L1476.8,1118.8L1459.8,1133.1L1466.3,1110.0L1449.3,1095.6L1470.3,1095.6ZM1519.1,1076.7L1525.6,1099.8L1546.6,1099.8L1529.6,1114.1L1536.1,1137.3L1519.1,1122.9L1502.1,1137.3L1508.6,1114.1L1491.6,1099.8L1512.6,1099.8ZM1614.1,1072.5L1620.6,1095.6L1641.6,1095.6L1624.6,1110.0L1631.1,1133.1L1614.1,1118.8L1597.1,1133.1L1603.6,1110.0L1586.6,1095.6L1607.6,1095.6Z"/>
<polyline fill="none" stroke="#00cc00" stroke-width="13.0" stroke-linejoin="round" points="220.1,1508.8 225.4,1508.6 230.8,1508.4 236.1,1508.2 241.5,1508.0 246.8,1507.8 252.2,1507.6 257.5,1507.4 262.9,1507.1 268.2,1506.9 273.6,1506.7 278.9,1506.5 284.3,1506.3 289.6,1506.1 295.0,1505.8 300.3,1505.6 305.7,1505.3 311.0,1505.1 316.4,1504.8 321.7,1504.6 327.1,1504.3 332.4,1504.1 337.8,1503.8 343.1,1503.6 348.5,1503.3 353.9,1503.1 359.2,1502.9 364.6,1502.7 369.9,1502.5 375.3,1502.3 380.6,1502.1 386.0,1501.9 391.3,1501.8 396.7,1501.6 402.0,1501.4 407.4,1501.3 412.7,1501.1 418.1,1501.0 423.4,1500.8 428.8,1500.7 434.1,1500.5 439.5,1500.3 444.8,1500.2 450.2,1500.0 455.5,1499.8 460.9,1499.6 466.2,1499.5 471.6,1499.3 476.9,1499.1 482.3,1499.0 487.6,1498.8 493.0,1498.6 498.3,1498.4 503.7,1498.2 509.0,1498.0 514.4,1497.9 519.8,1497.7 525.1,1497.5 530.5,1497.2 535.8,1497.0 541.2,1496.8 546.5,1496.6 551.9,1496.3 557.2,1496.1 562.6,1495.9 567.9,1495.6 573.3,1495.3 578.6,1495.0 584.0,1494.7 589.3,1494.4 594.7,1493.9 600.0,1493.4 605.4,1492.9 610.7,1492.2 616.1,1491.6 621.4,1490.9 626.8,1490.2 632.1,1489.5 637.5,1488.9 642.8,1488.4 648.2,1487.9 653.5,1487.3 658.9,1486.8 664.2,1486.3 669.6,1485.8 675.0,1485.3 680.3,1484.9 685.7,1484.6 691.0,1484.4 696.4,1484.2 701.7,1484.1 707.1,1484.0 712.4,1483.9 717.8,1483.8 723.1,1483.7 728.5,1483.6 733.8,1483.5 739.2,1483.3 744.5,1483.0 749.9,1482.6 755.2,1482.1 760.6,1481.6 765.9,1480.9 771.3,1480.2 776.6,1479.5 782.1,1477.9 787.6,1476.1 793.1,1474.3 798.6,1472.4 804.1,1470.3 809.6,1468.1 815.1,1465.9 820.6,1463.7 826.1,1461.4 831.5,1458.9 837.0,1456.2 842.5,1453.3 848.0,1450.3 853.5,1447.3 859.0,1444.3 864.5,1441.3 870.0,1438.4 875.5,1435.9 881.0,1433.5 886.5,1430.8 892.0,1427.5 897.5,1423.7 902.9,1419.8 908.4,1415.6 913.9,1411.2 919.4,1406.8 924.9,1402.4 930.4,1398.1 935.9,1393.8 941.4,1389.6 946.9,1385.3 952.4,1381.0 957.9,1376.7 963.4,1372.3 968.8,1367.9 974.3,1363.5 979.8,1359.5 985.3,1355.8 990.8,1352.4 996.3,1349.3 1001.7,1348.1 1007.1,1346.9 1012.5,1345.7 1017.9,1344.4 1023.3,1343.2 1028.7,1342.0 1034.1,1340.9 1039.5,1339.5 1044.9,1337.9 1050.4,1335.7 1055.8,1332.3 1061.2,1328.9 1066.6,1325.6 1072.0,1322.2 1077.4,1318.9 1082.8,1315.5 1088.2,1312.2 1093.6,1308.9 1099.0,1305.6 1104.4,1302.4 1109.8,1299.1 1115.2,1295.9 1120.6,1292.7 1126.0,1289.5 1131.4,1286.4 1136.8,1283.3 1142.2,1280.4 1147.6,1277.5 1153.0,1274.7 1158.4,1271.8 1163.9,1268.9 1169.3,1265.8 1174.7,1262.7 1180.1,1259.6 1185.5,1256.3 1190.9,1253.0 1196.3,1249.6 1201.7,1246.1 1207.1,1242.4 1212.5,1238.6 1217.9,1234.7 1223.3,1230.6 1228.7,1226.5 1234.1,1222.5 1239.5,1218.3 1244.9,1214.1 1250.3,1209.6 1255.7,1204.8 1261.1,1199.7 1266.5,1194.1 1271.9,1188.3 1277.4,1185.5 1282.8,1182.8 1288.3,1180.4 1293.8,1178.2 1299.2,1176.3 1304.7,1174.6 1310.1,1173.0 1315.6,1171.2 1321.0,1169.1 1326.5,1166.6 1331.9,1163.8 1337.4,1161.2 1342.8,1159.1 1348.3,1157.3 1353.7,1155.7 1359.2,1154.1 1364.6,1152.4 1370.1,1150.5 1375.5,1148.4 1381.0,1146.2 1386.4,1144.1 1391.9,1142.0 1397.3,1140.1 1402.8,1138.5 1408.2,1136.9 1413.7,1135.4 1419.1,1133.9 1424.6,1132.4 1430.0,1130.9 1435.5,1129.4 1440.9,1128.0 1446.4,1127.4 1451.8,1126.8 1457.2,1126.1 1462.7,1125.5 1468.1,1124.8 1473.5,1124.1 1479.0,1123.3 1484.4,1122.5 1489.9,1121.7 1495.3,1120.9 1500.7,1120.2 1506.2,1119.3 1511.6,1118.5 1517.0,1117.6 1522.5,1116.8 1527.9,1115.9 1533.3,1115.1 1538.8,1114.3 1544.2,1113.6 1549.7,1113.0 1555.1,1112.5 1560.5,1111.9 1566.0,1111.5 1571.4,1111.0 1576.8,1110.6 1582.3,1110.2 1587.7,1109.8 1593.1,1109.4 1598.6,1109.1 1604.0,1108.7 1609.5,1108.4 1614.9,1108.1 1620.3,1107.7 1625.8,1107.4 1631.2,1107.1 1636.6,1106.8 1642.1,1106.5 1647.5,1106.2 1652.9,1106.0 1658.4,1105.7 1663.8,1105.5 1669.3,1105.2 1674.7,1105.0 1680.1,1104.8 1685.6,1104.6 1691.0,1104.4 1696.4,1104.2 1701.9,1104.0 1707.3,1103.9 1712.7,1103.7 1718.2,1103.5 1723.6,1103.4 1729.1,1103.2 1734.5,1103.1 1739.9,1102.9 1745.4,1102.8 1750.8,1102.7 1756.2,1102.5 1761.7,1102.4 1767.1,1102.3 1772.5,1102.3"/>
<rect x="209.5" y="897.8" width="1901.0" height="691.7" fill="none" stroke="#333333" stroke-width="3"/>
<path fill="none" stroke="#333333" stroke-width="3" d="M209.5,1589.5V1569.5M209.5,897.8V917.8M420.7,1589.5V1569.5M420.7,897.8V917.8M631.9,1589.5V1569.5M631.9,897.8V917.8M843.2,1589.5V1569.5M843.2,897.8V917.8M1054.4,1589.5V1569.5M1054.4,897.8V917.8M1265.6,1589.5V1569.5M1265.6,897.8V917.8M1476.8,1589.5V1569.5M1476.8,897.8V917.8M1688.1,1589.5V1569.5M1688.1,897.8V917.8M1899.3,1589.5V1569.5M1899.3,897.8V917.8M2110.5,1589.5V1569.5M2110.5,897.8V917.8M209.5,1589.5H228.5M2110.5,1589.5H2091.5M209.5,1451.2H228.5M2110.5,1451.2H2091.5M209.5,1312.8H228.5M2110.5,1312.8H2091.5M209.5,1174.5H228.5M2110.5,1174.5H2091.5M209.5,1036.1H228.5M2110.5,1036.1H2091.5M209.5,897.8H228.5M2110.5,897.8H2091.5"/>
<text class="t" transform="translate(209.50,1662.80) scale(0.8615,1)" text-anchor="middle" font-size="60.0">0</text>
<text class="t" transform="translate(420.72,1662.80) scale(0.8615,1)" text-anchor="middle" font-size="60.0">20</text>
<text class="t" transform="translate(631.94,1662.80) scale(0.8615,1)" text-anchor="middle" font-size="60.0">40</text>
<text class="t" transform="translate(843.17,1662.80) scale(0.8615,1)" text-anchor="middle" font-size="60.0">60</text>
<text class="t" transform="translate(1054.39,1662.80) scale(0.8615,1)" text-anchor="middle" font-size="60.0">80</text>
<text class="t" transform="translate(1265.61,1662.80) scale(0.8615,1)" text-anchor="middle" font-size="60.0">100</text>
<text class="t" transform="translate(1476.83,1662.80) scale(0.8615,1)" text-anchor="middle" font-size="60.0">120</text>
<text class="t" transform="translate(1688.06,1662.80) scale(0.8615,1)" text-anchor="middle" font-size="60.0">140</text>
<text class="t" transform="translate(1899.28,1662.80) scale(0.8615,1)" text-anchor="middle" font-size="60.0">160</text>
<text class="t" transform="translate(2110.50,1662.80) scale(0.8615,1)" text-anchor="middle" font-size="60.0">180</text>
<text class="t" transform="translate(191.00,1611.00) scale(0.8615,1)" text-anchor="end" font-size="60.0">0</text>
<text class="t" transform="translate(191.00,1472.66) scale(0.8615,1)" text-anchor="end" font-size="60.0">0.2</text>
<text class="t" transform="translate(191.00,1334.32) scale(0.8615,1)" text-anchor="end" font-size="60.0">0.4</text>
<text class="t" transform="translate(191.00,1195.98) scale(0.8615,1)" text-anchor="end" font-size="60.0">0.6</text>
<text class="t" transform="translate(191.00,1057.64) scale(0.8615,1)" text-anchor="end" font-size="60.0">0.8</text>
<text class="t" transform="translate(191.00,919.30) scale(0.8615,1)" text-anchor="end" font-size="60.0">1</text>
<ellipse cx="382.7" cy="970.3" rx="17.5" ry="19.3" fill="#1e69e6"/>
<path fill="#ff0000" d="M382.7,1021.3L386.7,1034.9L399.5,1034.9L389.1,1043.3L393.1,1056.9L382.7,1048.5L372.3,1056.9L376.3,1043.3L365.9,1034.9L378.7,1034.9Z"/>
<line x1="292.6" x2="471.1" y1="1111.9" y2="1111.9" stroke="#00cc00" stroke-width="13.0"/>
<text transform="translate(467.50,156.00) scale(0.8732,1.0000)" text-anchor="start" font-size="60.00">GLONASS G1</text>
<text transform="translate(465.50,226.30) scale(0.8994,1.0000)" text-anchor="start" font-size="60.00">In-situ values</text>
<text transform="translate(467.50,296.00) scale(0.8901,1.0000)" text-anchor="start" font-size="60.00">GDD model</text>
<text transform="translate(484.50,992.60) scale(0.8983,1.0000)" text-anchor="start" font-size="60.00">GLONASS G2</text>
<text transform="translate(483.50,1061.60) scale(0.8985,1.0000)" text-anchor="start" font-size="60.00">In-situ values</text>
<text transform="translate(485.50,1132.00) scale(0.8891,1.0000)" text-anchor="start" font-size="60.00">GDD model</text>
<text transform="translate(1160.80,1738.50) scale(0.9025,1.0000)" text-anchor="middle" font-size="66.00">DOY/d</text>
<text transform="translate(78.80,421.40) rotate(-90) scale(0.9787,0.9550)" text-anchor="middle" font-size="66.00">Wheat height/m</text>
<text transform="translate(78.80,1241.50) rotate(-90) scale(0.9766,0.9550)" text-anchor="middle" font-size="66.00">Wheat height/m</text>
</g></svg></body></html>
